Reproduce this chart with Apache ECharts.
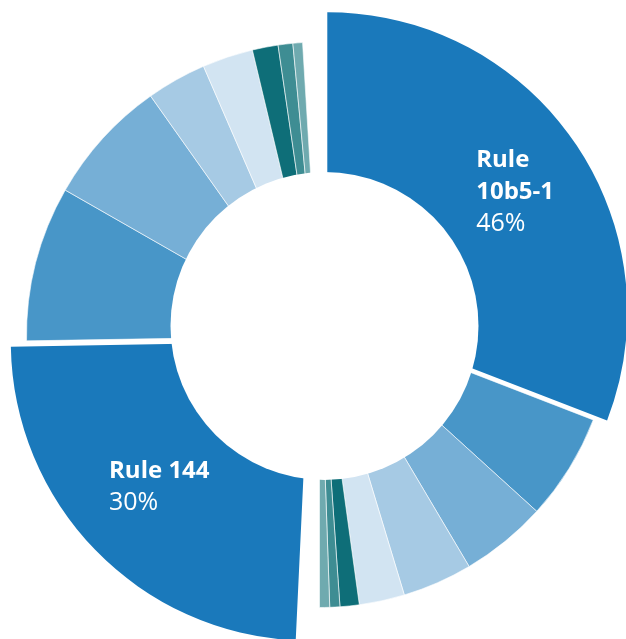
<!DOCTYPE html>
<html>
<head>
<meta charset="utf-8">
<script src="https://cdn.jsdelivr.net/npm/echarts@6/dist/echarts.min.js"></script>
<style>
  html, body { margin: 0; padding: 0; background: #ffffff; }
  #chart { width: 626px; height: 639px; }
</style>
</head>
<body>
<div id="chart"></div>
<script>
// ---- data (slice sizes, in degrees of the ring) ----
const groupANames = ['Rule 10b5-1', 'A2', 'A3', 'A4', 'A5', 'A6', 'A7', 'A8'];
const groupAValues = [111.15, 21.1, 17.1, 13.85, 9.0, 3.8, 2.0, 2.0];
const groupBNames = ['Rule 144', 'B2', 'B3', 'B4', 'B5', 'B6', 'B7', 'B8'];
const groupBValues = [86.35, 30.7, 24.95, 11.85, 10.05, 5.1, 2.9, 1.9];
const gapValues = [2.7, 3.5];            // empty wedges after group A and after group B
const labelTitles = ['Rule\n10b5-1', 'Rule 144'];
const labelPercents = ['46%', '30%'];

// ---- layout & styling ----
const sliceColors = ['#1a79bb', '#4896c8', '#76afd6', '#a6cae4', '#d2e4f2', '#0e6e78', '#3e8d93', '#6faaaf'];
const layout = {
  smallA: { center: [319.5, 314], outer: 293.5 },
  smallB: { center: [320.5, 336], outer: 294 },
  bigA:   { center: [327.3, 312.2], outer: 300, labelShift: [8.8, 2.8] },
  bigB:   { center: [309.8, 341.7], outer: 299, labelShift: [4.9, -5.5] },
  hole:   { center: [324.5, 326], r: 154 },
  innerHidden: 128
};
const FONT = 'Open Sans';

const sum = arr => arr.reduce((a, b) => a + b, 0);
const total = sum(groupAValues) + sum(groupBValues) + sum(gapValues);
const unit = 360 / total;

// compass angles (clockwise from top)
const aStart = 0;
const aBigEnd = aStart + groupAValues[0] * unit;
const aEnd = aStart + sum(groupAValues) * unit;
const bStart = aEnd + gapValues[0] * unit;
const bBigEnd = bStart + groupBValues[0] * unit;
const bEnd = bStart + sum(groupBValues) * unit;
const toEc = deg => 90 - deg;

function smallSeries(names, values, startDeg, endDeg, cfg) {
  return {
    type: 'pie', silent: true, animation: false,
    center: cfg.center, radius: [layout.innerHidden, cfg.outer],
    startAngle: toEc(startDeg), endAngle: toEc(endDeg), clockwise: true,
    itemStyle: { borderColor: '#ffffff', borderWidth: 0.6 },
    label: { show: false }, labelLine: { show: false },
    data: values.slice(1).map((v, i) => ({
      name: names[i + 1], value: v, itemStyle: { color: sliceColors[i + 1] }
    }))
  };
}

const richStyles = {
  b: { fontFamily: FONT, fontWeight: 700, fontSize: 24, color: '#ffffff', lineHeight: 32, align: 'left' },
  p: { fontFamily: FONT, fontWeight: 400, fontSize: 25, color: '#ffffff', lineHeight: 32, align: 'left' }
};

function bigSeries(name, value, idx, startDeg, endDeg, cfg) {
  return {
    type: 'pie', silent: true, animation: false,
    center: cfg.center, radius: [layout.innerHidden, cfg.outer],
    startAngle: toEc(startDeg), endAngle: toEc(endDeg), clockwise: true,
    itemStyle: { borderWidth: 0 },
    label: {
      show: true, position: 'inside',
      formatter: () => labelTitles[idx].split('\n').map(t => '{b|' + t + '}').join('\n') +
        '\n{p|' + labelPercents[idx] + '}',
      rich: richStyles
    },
    labelLayout: () => ({ dx: cfg.labelShift[0], dy: cfg.labelShift[1] }),
    labelLine: { show: false },
    data: [{ name: name, value: value, itemStyle: { color: sliceColors[0] } }]
  };
}

const chart = echarts.init(document.getElementById('chart'), null, { renderer: 'canvas' });
chart.setOption({
  backgroundColor: '#ffffff',
  animation: false,
  graphic: [{
    type: 'circle', silent: true, z: 50,
    shape: { cx: layout.hole.center[0], cy: layout.hole.center[1], r: layout.hole.r },
    style: { fill: '#ffffff' }
  }],
  series: [
    smallSeries(groupANames, groupAValues, aBigEnd, aEnd, layout.smallA),
    smallSeries(groupBNames, groupBValues, bBigEnd, bEnd, layout.smallB),
    bigSeries(groupANames[0], groupAValues[0], 0, aStart, aBigEnd, layout.bigA),
    bigSeries(groupBNames[0], groupBValues[0], 1, bStart, bBigEnd, layout.bigB)
  ]
});
</script>
</body>
</html>
